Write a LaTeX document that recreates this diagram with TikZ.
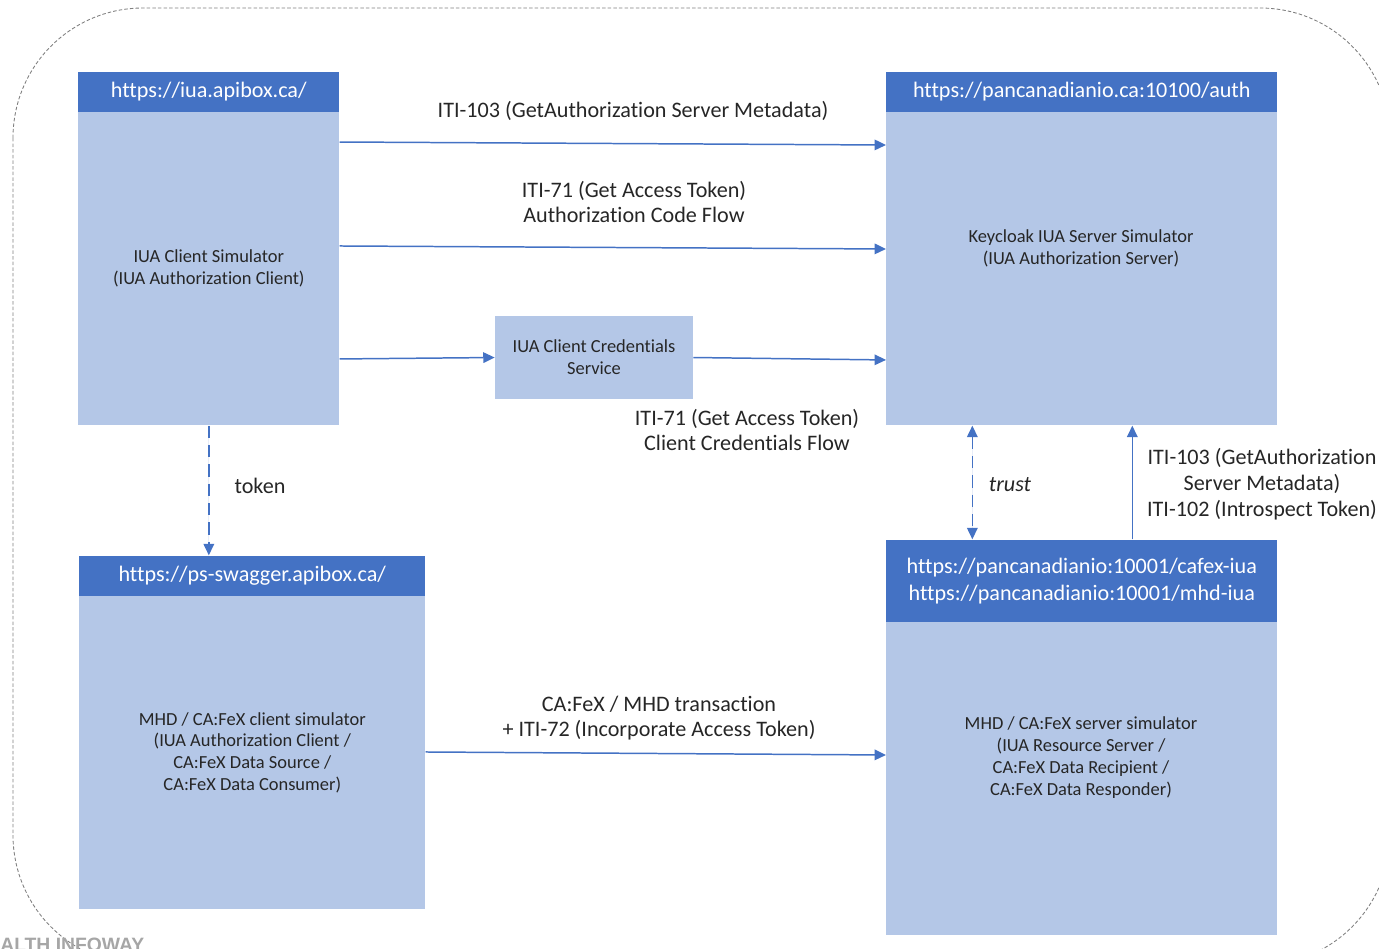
\documentclass[tikz,border=0pt]{standalone}
\usepackage{fontspec}
\setmainfont{Carlito}[Ligatures=NoCommon]
\newfontfamily\wmfont{Liberation Sans}
\usetikzlibrary{positioning,arrows.meta}

\definecolor{hdrblue}{HTML}{4472C4}
\definecolor{bodyblue}{HTML}{B4C7E7}
\definecolor{txtgray}{HTML}{262626}

\tikzset{
  body/.style={fill=bodyblue, inner sep=0pt, anchor=north west},
  header/.style={fill=hdrblue, text=white, inner sep=0pt, anchor=south west,
    align=center, font=\fontsize{12.6}{15.3}\selectfont},
  bodytext/.style={text=txtgray, align=center, font=\fontsize{10.5}{12.5}\selectfont},
  lbl/.style={text=txtgray, align=center, font=\fontsize{12.6}{14.7}\selectfont},
  arr/.style={-{Triangle[length=6.5pt,width=6pt]}, draw=hdrblue, fill=hdrblue, line width=0.85pt},
  dasharr/.style={arr, dash pattern=on 7pt off 4pt},
}

\begin{document}
\begin{tikzpicture}[x=0.02cm, y=-0.02cm]
            \useasboundingbox (0,0) rectangle (1379,948);
            % outer frame
            \draw[gray, line width=0.5pt, dash pattern=on 2pt off 1.2pt, rounded corners=2.6cm]
                (13,8) rectangle (1390,965);
            \node[anchor=north west, inner sep=0pt, text=gray!70, font=\wmfont\bfseries\fontsize{11}{13}\selectfont]
                (wmark) at (0,938) {ALTH INFOWAY};

            % boxes
            \node[body, minimum width=5.22cm, minimum height=6.26cm] (client) at (78,112) {};
            \node[header, minimum width=5.22cm, minimum height=0.8cm] (clienturl) at (client.north west) {https://iua.apibox.ca/};
            \node[bodytext] (clienttxt) at (client.center) {IUA Client Simulator\\(IUA Authorization Client)};

            \node[body, minimum width=7.82cm, minimum height=6.26cm] (authsrv) at (886,112) {};
            \node[header, minimum width=7.82cm, minimum height=0.8cm] (authurl) at (authsrv.north west) {https://pancanadianio.ca:10100/auth};
            \node[bodytext] (authtxt) at (1081,248) {Keycloak IUA Server Simulator\\(IUA Authorization Server)};

            \node[body, bodytext, anchor=center, minimum width=3.96cm, minimum height=1.66cm] (ccsvc) at (594,357.5) {IUA Client Credentials\\Service};

            \node[body, minimum width=6.92cm, minimum height=6.26cm] (swagger) at (79,596) {};
            \node[header, minimum width=6.92cm, minimum height=0.8cm] (swaggerurl) at (swagger.north west) {https://ps-swagger.apibox.ca/};
            \node[bodytext] (swaggertxt) at (swagger.center) {MHD / CA:FeX client simulator\\(IUA Authorization Client /\\CA:FeX Data Source /\\CA:FeX Data Consumer)};

            \node[body, minimum width=7.82cm, minimum height=6.26cm] (ressrv) at (886,622) {};
            \node[header, minimum width=7.82cm, minimum height=1.64cm] (resurl) at (ressrv.north west) {https://pancanadianio:10001/cafex-iua\\https://pancanadianio:10001/mhd-iua};
            \node[bodytext] (restxt) at (1081,758) {MHD / CA:FeX server simulator\\(IUA Resource Server /\\CA:FeX Data Recipient /\\CA:FeX Data Responder)};

            % connectors
            \draw[arr] ([yshift=-0.6cm]client.north east) -- ([yshift=-0.66cm]authsrv.north west);
            \draw[arr] ([yshift=-2.68cm]client.north east) -- ([yshift=-2.74cm]authsrv.north west);
            \draw[arr] ([yshift=-4.94cm]client.north east) -- (ccsvc.west);
            \draw[arr] (ccsvc.east) -- ([yshift=-4.96cm]authsrv.north west);
            \draw[dasharr] (client.south) -- (client.south |- swaggerurl.north);
            \draw[dasharr, {Triangle[length=6.5pt,width=6pt]}-{Triangle[length=6.5pt,width=6pt]}] ([xshift=-2.19cm]authsrv.south) -- ([xshift=-2.19cm]resurl.north);
            \draw[arr] ([xshift=1.01cm]resurl.north) -- ([xshift=1.01cm]authsrv.south);
            \draw[arr] ([yshift=-3.12cm]swagger.north east) -- ([yshift=-2.66cm]ressrv.north west);

            % labels
            \node[lbl] (lmeta) at (633,111) {ITI-103 (GetAuthorization Server Metadata)};
            \node[lbl] (lcode) at (634,202) {ITI-71 (Get Access Token)\\Authorization Code Flow};
            \node[lbl] (lcred) at (747,430) {ITI-71 (Get Access Token)\\Client Credentials Flow};
            \node[lbl] (ltoken) at (260,486) {token};
            \node[lbl, font=\fontsize{12.6}{14.7}\selectfont\itshape] (ltrust) at (1010,485) {trust};
            \node[lbl] (lintro) at (1262,484) {ITI-103 (GetAuthorization\\Server Metadata)\\ITI-102 (Introspect Token)};
            \node[lbl] (lmhd) at (659,718) {CA:FeX / MHD transaction\\+ ITI-72 (Incorporate Access Token)};
        \end{tikzpicture}
\end{document}
